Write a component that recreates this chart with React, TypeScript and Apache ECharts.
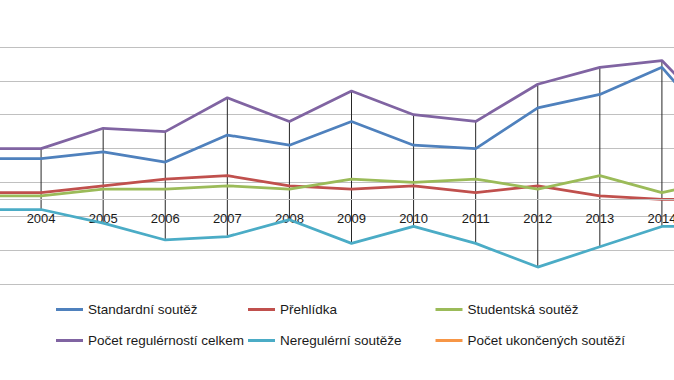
import React, { useEffect, useRef } from "react";
import * as echarts from "echarts";

const years = ["2003", "2004", "2005", "2006", "2007", "2008", "2009", "2010", "2011", "2012", "2013", "2014", "2015"];
const standardni = [37, 37, 39, 36, 44, 41, 48, 41, 40, 52, 56, 64, 43];
const prehlidka = [27, 27, 29, 31, 32, 29, 28, 29, 27, 29, 26, 25, 25];
const studentska = [26, 26, 28, 28, 29, 28, 31, 30, 31, 28, 32, 27, 31];
const celkem = [40, 40, 46, 45, 55, 48, 57, 50, 48, 59, 64, 66, 47];
const neregulerni = [22, 22, 18, 13, 14, 19, 12, 17, 12, 5, 11, 17, 17];
const ukoncene: (number | null)[] = [];
const axisCross = 25;

const names = [
  "Standardní soutěž",
  "Přehlídka",
  "Studentská soutěž",
  "Počet regulérností celkem",
  "Neregulérní soutěže",
  "Počet ukončených soutěží",
];
const colors = ["#4F81BD", "#C0504D", "#9BBB59", "#8064A2", "#4BACC6", "#F79646"];
const seriesData = [standardni, prehlidka, studentska, celkem, neregulerni, ukoncene];

const FONT = "'Liberation Sans', Arial, sans-serif";
const SHIFT = 21;

export default function App() {
  const ref = useRef<HTMLDivElement>(null);
  useEffect(() => {
    if (!ref.current) return;
    const chart = echarts.init(ref.current, undefined, { renderer: "svg" });

    const hiLo = years.map((_, i) => {
      const vals = [standardni[i], prehlidka[i], studentska[i], celkem[i], neregulerni[i]];
      return [i, Math.max(...vals), Math.min(...vals)];
    });

    const legendCommon = {
      orient: "horizontal",
      padding: 0,
      itemWidth: 27,
      itemHeight: 3,
      icon: "rect",
      selectedMode: false,
      textStyle: { fontSize: 13.5, color: "#1a1a1a", fontFamily: FONT },
    };
    const legendPos = [
      [56, 302.5],
      [248, 302.5],
      [435.5, 302.5],
      [56, 333.5],
      [248, 333.5],
      [435.5, 333.5],
    ];

    chart.setOption({
      animation: false,
      backgroundColor: "#ffffff",
      color: colors,
      grid: { left: 0, right: 0, top: 47, bottom: 96, containLabel: false },
      legend: names.map((n, i) => ({
        ...legendCommon,
        data: [n],
        left: legendPos[i][0] + SHIFT,
        top: legendPos[i][1],
      })),
      xAxis: {
        type: "category",
        data: years,
        boundaryGap: false,
        offset: -80,
        axisLine: { show: false },
        axisTick: { show: false },
        axisLabel: {
          fontSize: 13,
          color: "#1a1a1a",
          fontFamily: FONT,
          interval: (idx: number) => idx > 0 && idx < years.length - 1,
        },
        splitLine: { show: false },
      },
      yAxis: {
        type: "value",
        min: 0,
        max: 70,
        interval: 10,
        axisLabel: { show: false },
        axisLine: { show: false },
        axisTick: { show: false },
        splitLine: { lineStyle: { color: "#c0c0c0", width: 1 } },
      },
      series: [
        {
          name: "_axis",
          type: "line",
          data: [],
          z: 1,
          silent: true,
          markLine: {
            silent: true,
            symbol: ["none", "none"],
            label: { show: false },
            lineStyle: { color: "#c0c0c0", width: 1, type: "solid" },
            data: [{ yAxis: axisCross }],
          },
        },
        {
          name: "_hilo",
          type: "custom",
          z: 2,
          silent: true,
          data: hiLo,
          encode: { x: 0, y: [1, 2] },
          renderItem: (_params: any, api: any) => {
            const top = api.coord([api.value(0), api.value(1)]);
            const bot = api.coord([api.value(0), api.value(2)]);
            return {
              type: "line",
              shape: { x1: top[0], y1: top[1], x2: bot[0], y2: bot[1] },
              style: { stroke: "#262626", lineWidth: 1 },
            };
          },
        },
        ...names.map((n, i) => ({
          name: n,
          type: "line",
          data: seriesData[i],
          symbol: "none",
          z: 3,
          lineStyle: { color: colors[i], width: 2.75 },
          itemStyle: { color: colors[i] },
        })),
      ],
    });
    return () => chart.dispose();
  }, []);
  return (
    <div
      ref={ref}
      style={{ position: "fixed", left: -SHIFT, top: 0, width: 745, height: 380, background: "#fff" }}
    />
  );
}
